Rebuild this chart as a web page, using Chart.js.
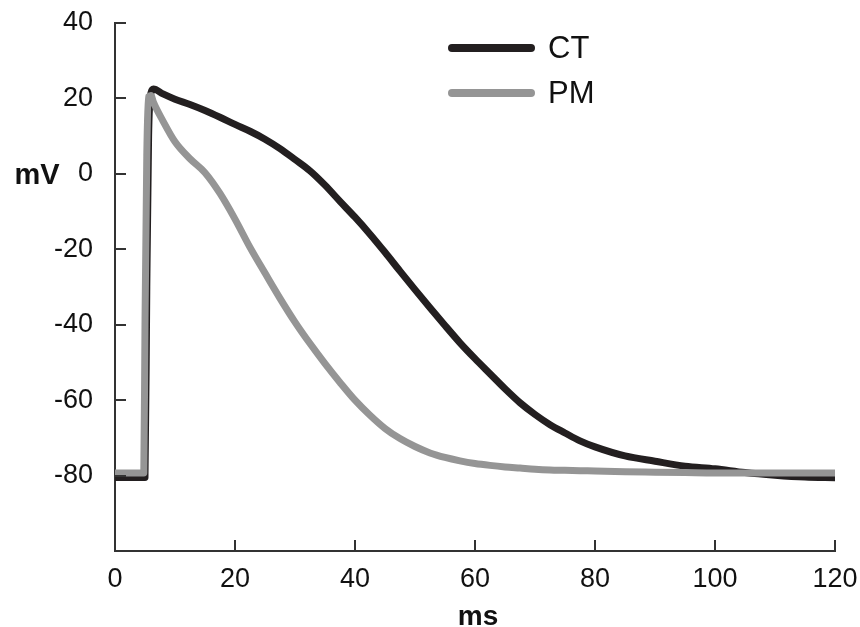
<!DOCTYPE html>
<html>
<head>
<meta charset="utf-8">
<script src="https://cdn.jsdelivr.net/npm/chart.js@4"></script>
<style>
html,body{margin:0;padding:0;background:#fff;}
#wrap{width:860px;height:627px;position:relative;}
</style>
</head>
<body>
<div id="wrap"><canvas id="c" width="860" height="627"></canvas></div>
<script>
// ---- data ----
const timeMs = [0, 4.8, 5.0, 5.3, 5.6, 6.0, 6.4, 8, 10, 12.5, 15, 17.5, 20, 22.5, 25, 27.5, 30, 32.5, 35, 37.5, 40, 42.5, 45, 47.5, 50, 52.5, 55, 57.5, 60, 62.5, 65, 67.5, 70, 72.5, 75, 77.5, 80, 85, 90, 95, 100, 105, 110, 115, 120];
const ctValues = [-80.5, -80.5, -80.5, -30, 10, 21.5, 22.5, 21.2, 19.8, 18.4, 16.8, 15, 13.1, 11.3, 9.2, 6.7, 3.8, 0.8, -3, -7.3, -11.5, -16, -20.8, -25.8, -30.7, -35.5, -40.2, -44.8, -49, -53, -57, -60.7, -63.8, -66.5, -68.7, -70.8, -72.4, -74.8, -76.2, -77.5, -78.2, -79.2, -79.9, -80.4, -80.6];
const pmValues = [-79.3, -79.3, -40, 5, 20.5, 20.8, 19, 14, 8.5, 4, 0.3, -5.2, -12, -19.5, -26.3, -33, -39.3, -45, -50.3, -55.3, -60, -64, -67.5, -70.2, -72.3, -74, -75.2, -76.1, -76.8, -77.3, -77.7, -78, -78.3, -78.5, -78.6, -78.7, -78.8, -79, -79.1, -79.2, -79.3, -79.3, -79.3, -79.3, -79.3];
const seriesNames = ['CT', 'PM'];
const xTicks = [0, 20, 40, 60, 80, 100, 120];
const yTicks = [40, 20, 0, -20, -40, -60, -80];
const xTitle = 'ms';
const yTitle = 'mV';

const toPts = vals => timeMs.map((t, i) => ({x: t, y: vals[i]}));
const FONT = 'Liberation Sans, Arial, Helvetica, sans-serif';
const AXIS = '#333333';

const zeroPad = s => { s.paddingTop = 0; s.paddingBottom = 0; s.paddingLeft = 0; s.paddingRight = 0; };

const innerTicks = {
  id: 'innerTicks',
  afterDraw(chart) {
    const ctx = chart.ctx, xs = chart.scales.x, ys = chart.scales.y;
    ctx.save();
    ctx.strokeStyle = AXIS; ctx.lineWidth = 2;
    xTicks.forEach(v => {
      if (v === xs.min) return;
      const px = Math.round(xs.getPixelForValue(v));
      ctx.beginPath(); ctx.moveTo(px, ys.bottom); ctx.lineTo(px, ys.bottom - 11); ctx.stroke();
    });
    yTicks.forEach(v => {
      const py = Math.round(ys.getPixelForValue(v));
      ctx.beginPath(); ctx.moveTo(xs.left, py); ctx.lineTo(xs.left + 11, py); ctx.stroke();
    });
    // axis titles
    ctx.fillStyle = '#111';
    ctx.font = 'bold 29px ' + FONT;
    ctx.textAlign = 'center'; ctx.textBaseline = 'middle';
    ctx.fillText(yTitle, 37, ys.getPixelForValue(0) + 2);
    ctx.font = 'bold 28px ' + FONT;
    ctx.textBaseline = 'alphabetic';
    ctx.fillText(xTitle, (xs.left + xs.right) / 2 + 3, 625);
    // legend
    const ds = chart.data.datasets;
    const lx1 = 452, lx2 = 531, rows = [48, 93];
    ctx.lineCap = 'round';
    ds.forEach((d, i) => {
      ctx.strokeStyle = d.borderColor; ctx.lineWidth = 8;
      ctx.beginPath(); ctx.moveTo(lx1, rows[i]); ctx.lineTo(lx2, rows[i]); ctx.stroke();
      ctx.fillStyle = '#111';
      ctx.font = '31px ' + FONT;
      ctx.textAlign = 'left'; ctx.textBaseline = 'middle';
      ctx.fillText(d.label, 548, rows[i] + 1);
    });
    ctx.restore();
  }
};

new Chart(document.getElementById('c'), {
  type: 'line',
  data: {
    datasets: [
      {label: seriesNames[0], data: toPts(ctValues), borderColor: '#231f20', borderWidth: 7, pointRadius: 0, cubicInterpolationMode: 'monotone', borderJoinStyle: 'round', borderCapStyle: 'round', order: 1, fill: false},
      {label: seriesNames[1], data: toPts(pmValues), borderColor: '#959595', borderWidth: 7, pointRadius: 0, cubicInterpolationMode: 'monotone', borderJoinStyle: 'round', borderCapStyle: 'round', order: 0, fill: false}
    ]
  },
  options: {
    responsive: false,
    animation: false,
    events: [],
    layout: {padding: {left: 0, right: 25, top: 23, bottom: 0}},
    plugins: {legend: {display: false}, tooltip: {enabled: false}},
    scales: {
      x: {
        type: 'linear', min: 0, max: 120,
        afterFit(s) { s.height = 76; zeroPad(s); },
        afterBuildTicks(s) { s.ticks = xTicks.map(v => ({value: v})); },
        grid: {display: false, drawTicks: false},
        border: {display: true, color: AXIS, width: 2},
        ticks: {color: '#111', font: {family: FONT, size: 27}, padding: 12, maxRotation: 0}
      },
      y: {
        type: 'linear', min: -100, max: 40,
        afterFit(s) { s.width = 115; zeroPad(s); },
        afterBuildTicks(s) { s.ticks = yTicks.map(v => ({value: v})); },
        grid: {display: false, drawTicks: false},
        border: {display: true, color: AXIS, width: 2},
        ticks: {color: '#111', font: {family: FONT, size: 27}, padding: 22}
      }
    }
  },
  plugins: [innerTicks]
});
</script>
</body>
</html>
